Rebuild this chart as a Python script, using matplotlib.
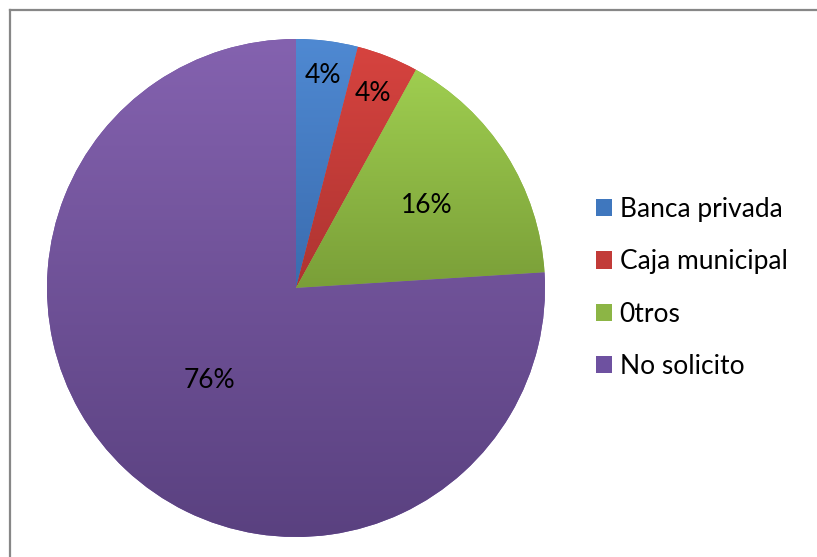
import numpy as np
import matplotlib
matplotlib.use('Agg')
import matplotlib.pyplot as plt
from matplotlib.colors import LinearSegmentedColormap
from matplotlib.lines import Line2D
from matplotlib.patches import Patch

labels = ['Banca privada', 'Caja municipal', '0tros', 'No solicito']
values = [4, 4, 16, 76]

# style: gradient (top, bottom) per slice, legend swatch colour, label distance
grad_top = ['#4F89D2', '#D6433F', '#9FCE50', '#8462AF']
grad_bot = ['#3A6CAF', '#AE3431', '#7A9F38', '#5A4180']
swatch = ['#3F77BE', '#C23B38', '#8CB545', '#6E51A0']
label_dist = [0.86, 0.84, 0.62, 0.51]

plt.rcParams['font.family'] = ['Lato', 'DejaVu Sans']

W, H = 817, 557
fig = plt.figure(figsize=(W / 100, H / 100), dpi=100)
cx, cy, R = 296, 288, 249
ax = fig.add_axes([(cx - R) / W, (H - cy - R) / H, 2 * R / W, 2 * R / H])

wedges, _ = ax.pie(values, startangle=90, counterclock=False, radius=1,
                   center=(0, 0), wedgeprops=dict(linewidth=0))
ax.set_xlim(-1, 1)
ax.set_ylim(-1, 1)
ax.set_aspect('equal')
ax.axis('off')

grad = np.linspace(0, 1, 256).reshape(-1, 1)
for i, w in enumerate(wedges):
    w.set_facecolor(swatch[i])
    ext = w.get_path().get_extents()
    cmap = LinearSegmentedColormap.from_list(f'g{i}', [grad_top[i], grad_bot[i]])
    im = ax.imshow(grad, cmap=cmap, extent=[ext.x0, ext.x1, ext.y0, ext.y1],
                   origin='upper', aspect='auto', zorder=2)
    im.set_clip_path(w)
    th = np.deg2rad((w.theta1 + w.theta2) / 2)
    r = label_dist[i]
    ax.text(r * np.cos(th), r * np.sin(th), f'{values[i]}%', ha='center',
            va='center', fontsize=19, color='black', zorder=5)

ax.set_xlim(-1, 1)
ax.set_ylim(-1, 1)

handles = [Patch(facecolor=swatch[i], edgecolor='none') for i in range(len(labels))]
fig.legend(handles, labels, loc='center left', bbox_to_anchor=(596 / W, 1 - 288 / H),
           frameon=False, fontsize=19, handlelength=0.62, handleheight=0.62,
           handletextpad=0.28, labelspacing=1.04, borderpad=0, borderaxespad=0)

x0 = 9.5 / W
y0 = 1 - 9.5 / H
fig.add_artist(Line2D([x0, 1], [y0, y0], transform=fig.transFigure, color='#878787', lw=1.6))
fig.add_artist(Line2D([x0, x0], [0, y0], transform=fig.transFigure, color='#878787', lw=1.6))

fig.savefig('out.png', dpi=100)
